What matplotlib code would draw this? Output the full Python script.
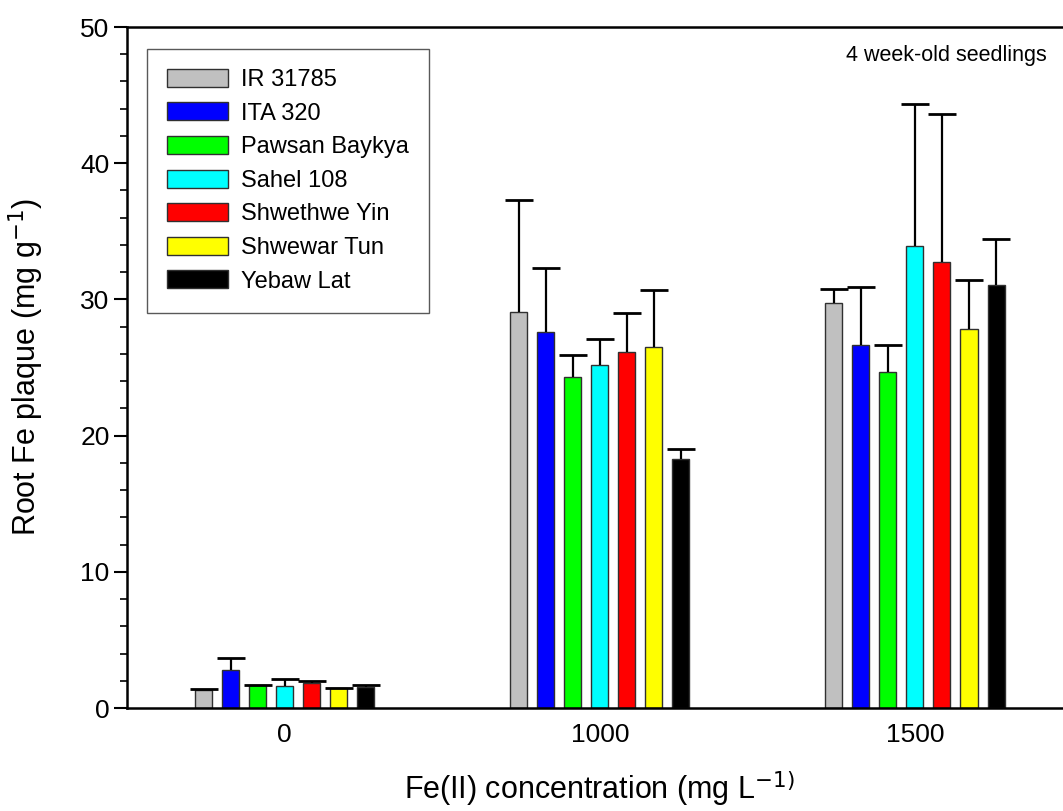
import numpy as np
import matplotlib
matplotlib.use("Agg")
import matplotlib.pyplot as plt
from matplotlib.ticker import MultipleLocator

plt.rcParams['font.family'] = ['Liberation Sans', 'DejaVu Sans']

# Fe(II) treatments and rice cultivars
concentrations = ['0', '1000', '1500']
cultivars = ['IR 31785', 'ITA 320', 'Pawsan Baykya', 'Sahel 108',
             'Shwethwe Yin', 'Shwewar Tun', 'Yebaw Lat']
colors = ['#c0c0c0', '#0000ff', '#00ff00', '#00ffff', '#ff0000', '#ffff00', '#000000']

# Root Fe plaque (mg g-1), one list per cultivar across the three treatments
ir31785 = [1.32, 29.07, 29.74]
ita320 = [2.81, 27.60, 26.68]
pawsan_baykya = [1.66, 24.28, 24.67]
sahel108 = [1.64, 25.21, 33.92]
shwethwe_yin = [1.81, 26.16, 32.75]
shwewar_tun = [1.44, 26.50, 27.85]
yebaw_lat = [1.57, 18.31, 31.08]

# standard errors (upper bars only)
ir31785_err = [0.07, 8.20, 1.05]
ita320_err = [0.86, 4.73, 4.23]
pawsan_baykya_err = [0.04, 1.66, 1.98]
sahel108_err = [0.51, 1.86, 10.43]
shwethwe_yin_err = [0.19, 2.84, 10.85]
shwewar_tun_err = [0.05, 4.17, 3.55]
yebaw_lat_err = [0.14, 0.73, 3.33]

means = [ir31785, ita320, pawsan_baykya, sahel108, shwethwe_yin, shwewar_tun, yebaw_lat]
errors = [ir31785_err, ita320_err, pawsan_baykya_err, sahel108_err,
          shwethwe_yin_err, shwewar_tun_err, yebaw_lat_err]

fig = plt.figure(figsize=(10.63, 8.11), dpi=100)
# axes run a little past the right edge of the figure
ax = fig.add_axes([0.1195, 0.127, 0.8895, 0.8397])

x = np.arange(len(concentrations))
pitch = 0.0857
width = 0.054

for i, (name, vals, errs, col) in enumerate(zip(cultivars, means, errors, colors)):
    pos = x + (i - 3) * pitch
    ax.bar(pos, vals, width, color=col, edgecolor='#303030', linewidth=1.0,
           label=name, zorder=2)
    eb = ax.errorbar(pos, vals, yerr=[np.zeros(len(errs)), errs], fmt='none',
                     ecolor='black', elinewidth=1.6, capsize=10, capthick=2, zorder=3)
    # keep only the upper cap
    eb[1][0].set_visible(False)

# axis limits and ticks
ax.set_xlim(-0.5, 2.5)
ax.set_ylim(0, 50)
ax.set_xticks(x)
ax.set_xticklabels(concentrations, fontsize=19)
ax.tick_params(axis='x', length=0, pad=11)
ax.yaxis.set_major_locator(MultipleLocator(10))
ax.yaxis.set_minor_locator(MultipleLocator(2))
ax.tick_params(axis='y', which='major', direction='out', length=9.5, width=1.5,
               labelsize=19, pad=3)
ax.tick_params(axis='y', which='minor', direction='out', length=4.7, width=1.2)

for side in ['left', 'bottom', 'top']:
    ax.spines[side].set_linewidth(1.8)
ax.spines['right'].set_visible(False)

# axis titles
ax.set_ylabel('Root Fe plaque (mg g$^{-1}$)', fontsize=22)
ax.set_xlabel('Fe(II) concentration (mg L$^{-1)}$', fontsize=22)
ax.yaxis.set_label_coords(-0.0857, 0.5)
ax.xaxis.set_label_coords(0.5, -0.089)

fig.text(1047 / 1063, 1 - 55 / 811, '4 week-old seedlings', fontsize=15.5,
         ha='right', va='center')

# legend box in the upper left corner
leg = ax.legend(loc='upper left', bbox_to_anchor=(0.021, 0.968), fontsize=17,
                frameon=True, fancybox=False, edgecolor='#303030',
                handlelength=2.6, handleheight=0.8, handletextpad=0.55,
                labelspacing=0.48, borderpad=0.85, borderaxespad=0)
leg.get_frame().set_linewidth(1.0)

plt.savefig('out.png', dpi=100)
